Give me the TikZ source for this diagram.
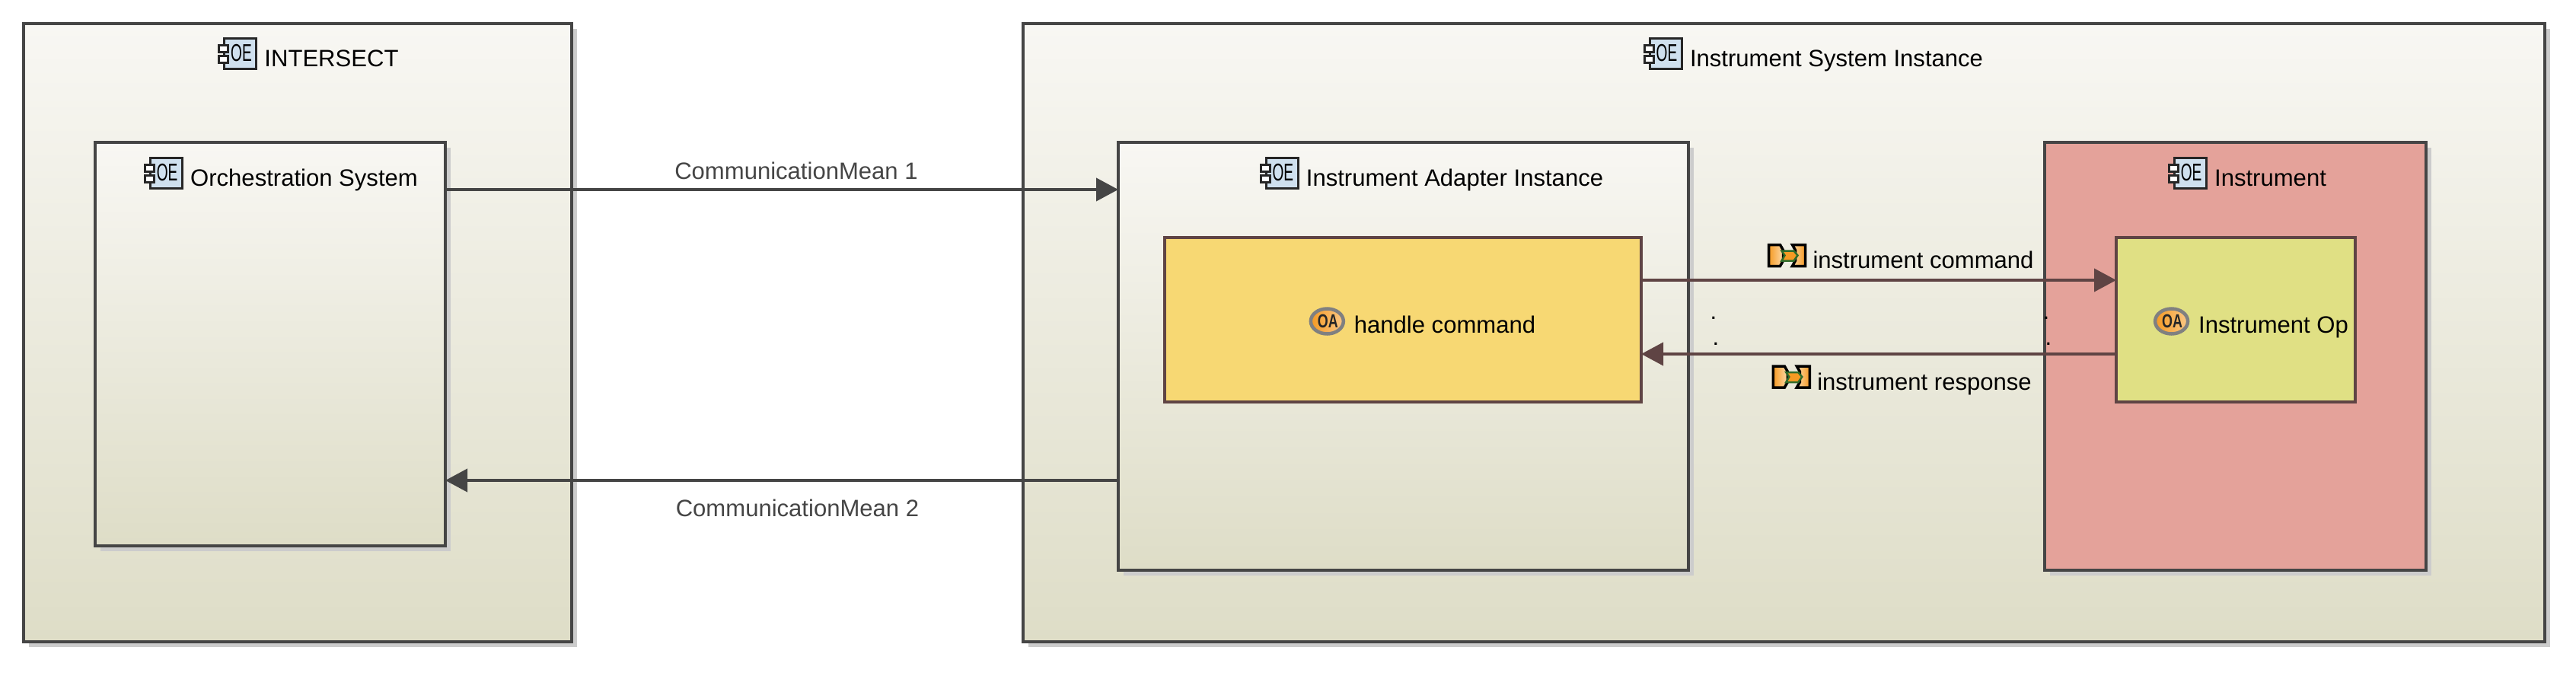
\documentclass[tikz,border=0pt]{standalone}
\usepackage{fontspec}
\setmainfont{Liberation Sans}
\usetikzlibrary{arrows.meta,positioning,calc,shadows}
\definecolor{linegray}{HTML}{454545}
\definecolor{linebrown}{HTML}{5F4444}
\definecolor{gradtop}{HTML}{F8F7F3}
\definecolor{gradbot}{HTML}{DEDDC7}
\definecolor{redfill}{HTML}{E4A29A}
\definecolor{yellowfill}{HTML}{F7D873}
\definecolor{limefill}{HTML}{E0E084}
\definecolor{iconblue}{HTML}{CFE0EE}
\definecolor{iconorange}{HTML}{F59A23}
\definecolor{iconpale}{HTML}{FDD9A8}
\definecolor{icongreen}{HTML}{2F6B2A}
\tikzset{
  compicon/.pic={
    \draw[line width=0.03in,draw=black!85,fill=iconblue] (-0.17in,-0.2in) rectangle (0.25in,0.2in);
    \draw[line width=0.03in,draw=black!85,fill=white] (-0.24in,0.02in) rectangle (-0.12in,0.11in);
    \draw[line width=0.03in,draw=black!85,fill=white] (-0.24in,-0.12in) rectangle (-0.12in,-0.03in);
    \node[inner sep=0,font=\fontsize{23}{23}\selectfont] at (0.05in,0) {\scalebox{.6}[1]{OE}};
  },
  opicon/.pic={
    \draw[line width=0.045in,draw=black!50,left color=iconorange,right color=iconorange!55!white] (0,0) ellipse (0.215in and 0.165in);
    \node[inner sep=0,font=\bfseries\fontsize{18}{18}\selectfont,text=black!85] at (0.01in,0) {\scalebox{.72}[1]{OA}};
  },
  itemicon/.pic={
    \draw[line width=0.035in,draw=black,left color=iconorange,right color=iconpale] (-0.24in,0.14in) -- (-0.09in,0.14in) -- (-0.05in,0.07in) -- (-0.05in,-0.07in) -- (-0.09in,-0.14in) -- (-0.24in,-0.14in) -- cycle;
    \draw[line width=0.035in,draw=black,left color=iconpale,right color=iconorange] (0.24in,0.14in) -- (0.1in,0.14in) -- (0.07in,0.14in) -- (0.11in,0.07in) -- (0.11in,-0.07in) -- (0.07in,-0.14in) -- (0.24in,-0.14in) -- cycle;
    \fill[iconorange,draw=icongreen,line width=0.025in] (-0.07in,0.06in) -- (0.09in,0.06in) -- (0.14in,0) -- (0.09in,-0.07in) -- (-0.07in,-0.07in) -- (-0.03in,0) -- cycle;
  }
}
\begin{document}
\begin{tikzpicture}[
    box/.style={draw=linegray,line width=0.04in,outer sep=0,inner sep=0,top color=gradtop,bottom color=gradbot,
      general shadow={fill=black!20,shadow xshift=0.07in,shadow yshift=-0.07in}},
    flatbox/.style={draw=linebrown,line width=0.04in,outer sep=0,inner sep=0},
    lbl/.style={inner sep=0,outer sep=0,anchor=base,font=\fontsize{22.45}{26}\selectfont},
    graylink/.style={draw=linegray,line width=0.04in,-{Triangle[length=0.29in,width=0.3in]}},
    brownlink/.style={draw=linebrown,line width=0.04in,-{Triangle[length=0.29in,width=0.3in]}}]
  \useasboundingbox (0,0) rectangle (33.84in,-8.84in);
  % outer boxes
  \node[box,anchor=north west,minimum width=7.2in,minimum height=8.12in] (intersect) at (0.31in,-0.31in) {};
  \node[box,anchor=north west,minimum width=19.99in,minimum height=8.12in] (system) at (13.44in,-0.31in) {};
  % inner boxes
  \node[box,below right=1.56in and 0.94in of intersect.north west,minimum width=4.6in,minimum height=5.3in] (orch) {};
  \node[box,below right=1.56in and 1.25in of system.north west,minimum width=7.49in,minimum height=5.62in] (adapter) {};
  \node[box,top color=redfill,bottom color=redfill,right=4.68in of adapter.north east,anchor=north west,minimum width=5.01in,minimum height=5.62in] (instrument) {};
  \node[flatbox,fill=yellowfill,below right=1.25in and 0.61in of adapter.north west,minimum width=6.26in,minimum height=2.16in] (handle) {};
  \node[flatbox,fill=limefill,below right=1.25in and 0.94in of instrument.north west,minimum width=3.14in,minimum height=2.16in] (op) {};
  % box titles
  \node[lbl] (intersectlbl) at ([shift={(0.445in,-0.56in)}]intersect.north) {INTERSECT};
  \node[lbl] (orchlbl) at ([shift={(0.445in,-0.57in)}]orch.north) {Orchestration System};
  \node[lbl] (systemlbl) at ([shift={(0.69in,-0.56in)}]system.north) {Instrument System Instance};
  \node[lbl] (adapterlbl) at ([shift={(0.675in,-0.57in)}]adapter.north) {Instrument Adapter Instance};
  \node[lbl] (instrumentlbl) at ([shift={(0.46in,-0.57in)}]instrument.north) {Instrument};
  \node[lbl] (handlelbl) at ([shift={(0.55in,-1.25in)}]handle.north) {handle command};
  \node[lbl] (oplbl) at ([shift={(0.495in,-1.25in)}]op.north) {Instrument Op};
  % icons
  \foreach \lblname in {intersectlbl,orchlbl,systemlbl,adapterlbl,instrumentlbl}
    \pic at ([shift={(-0.355in,0.17in)}]\lblname.base west) {compicon};
  \pic at ([shift={(-0.355in,0.15in)}]handlelbl.base west) {opicon};
  \pic at ([shift={(-0.355in,0.15in)}]oplbl.base west) {opicon};
  % connectors
  \draw[graylink] ([yshift=-0.62in]orch.north east) -- ([yshift=-0.62in]orch.north east -| adapter.west);
  \draw[graylink] ([yshift=-4.44in]adapter.north west) -- ([yshift=-4.44in]adapter.north west -| orch.east);
  \draw[brownlink] ([yshift=-0.56in]handle.north east) -- ([yshift=-0.56in]handle.north east -| op.west);
  \draw[brownlink] ([yshift=-1.53in]op.north west) -- ([yshift=-1.53in]op.north west -| handle.east);
  % connector labels
  \node[lbl,text=linegray] (meanone) at (10.46in,-2.35in) {CommunicationMean 1};
  \node[lbl,text=linegray] (meantwo) at (10.475in,-6.78in) {CommunicationMean 2};
  \node[lbl] (cmdlbl) at (25.265in,-3.525in) {instrument command};
  \node[lbl] (resplbl) at (25.28in,-5.12in) {instrument response};
  \pic at ([shift={(-0.34in,0.17in)}]cmdlbl.base west) {itemicon};
  \pic at ([shift={(-0.34in,0.17in)}]resplbl.base west) {itemicon};
  % stray dots
  \node[lbl] (dota) at (22.51in,-4.19in) {.};
  \node[lbl] (dotb) at (26.88in,-4.19in) {.};
  \node[lbl] (dotc) at (22.54in,-4.53in) {.};
  \node[lbl] (dotd) at (26.91in,-4.53in) {.};
\end{tikzpicture}
\end{document}
